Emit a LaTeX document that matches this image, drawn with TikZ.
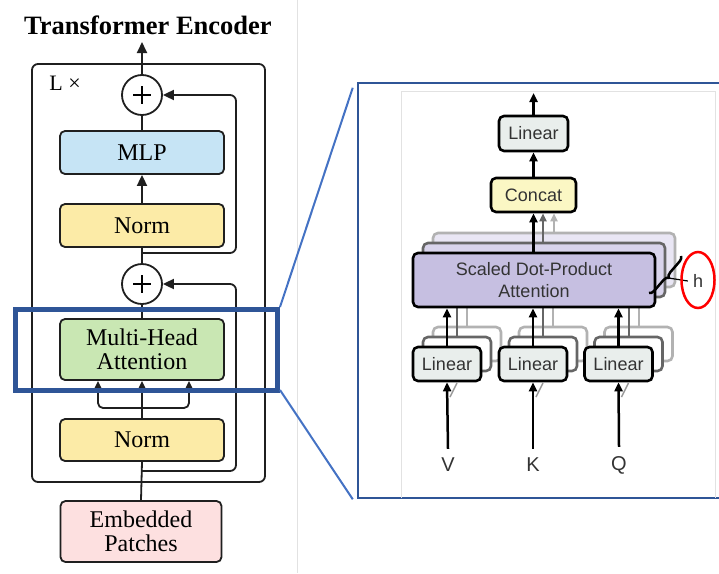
\documentclass[tikz,border=0pt]{standalone}
\usepackage{fontspec}
\setmainfont{Liberation Serif}
\newfontfamily\hv{Liberation Sans}
\usetikzlibrary{arrows.meta,decorations.pathreplacing,calc,shapes.geometric}

\definecolor{mlpblue}{HTML}{C6E4F5}
\definecolor{normyellow}{HTML}{FCEBA7}
\definecolor{mhagreen}{HTML}{C9E7B3}
\definecolor{embpink}{HTML}{FDE0E0}
\definecolor{linfill}{HTML}{E9EEEC}
\definecolor{concatfill}{HTML}{FBF7C4}
\definecolor{sdpafill}{HTML}{C6BFE1}
\definecolor{sdpafillb}{HTML}{D9D4EC}
\definecolor{sdpafillc}{HTML}{E9E6F4}
\definecolor{hlblue}{HTML}{2F5597}
\definecolor{linkblue}{HTML}{4472C4}
\definecolor{txtgray}{HTML}{333333}
\definecolor{divgray}{HTML}{E2E2E2}

\begin{document}
\begin{tikzpicture}[x=1pt,y=-1pt,
  every node/.style={inner sep=0pt},
  lline/.style={line width=1.8pt, draw=black!88},
  larr/.style={lline, -{Triangle[length=11pt,width=10pt]}},
  lbox/.style={draw=black!88, line width=1.8pt, rounded corners=5pt,
    minimum width=164pt, align=center, font=\fontsize{24}{24.5}\selectfont},
  plusnode/.style={circle, draw=black!88, line width=1.8pt, minimum size=40pt, fill=white},
  rline/.style={line width=2.5pt, draw=black},
  rarr/.style={rline, -{Triangle[length=9pt,width=8pt]}},
  rbox/.style={draw=black, line width=2.6pt, rounded corners=5pt, align=center,
    text=txtgray, font=\hv\fontsize{18}{22}\selectfont},
  rboxb/.style={rbox, draw=black!60},
  rboxc/.style={rbox, draw=black!30},
  rlabel/.style={text=txtgray, font=\hv\fontsize{20}{22}\selectfont},
]
\useasboundingbox (0,0) rectangle (719,573);
\fill[white] (0,0) rectangle (719,573);

% divider between the two panels
\draw[divgray, line width=1pt] (297,0) -- (297,573);

% ---------------- Transformer encoder ----------------
\node[font=\bfseries\fontsize{26.5}{27}\selectfont] (title) at (148,25) {Transformer Encoder};
\node[draw=black!88, line width=1.8pt, rounded corners=6pt,
      minimum width=233pt, minimum height=418pt] (enc) at (148.5,273) {};
\node[font=\fontsize{22}{24}\selectfont] (lx) at (65,83) {L ×};

\node[lbox, fill=mlpblue, minimum height=43pt] (mlp) at (142,152.5) {MLP};
\node[lbox, fill=normyellow, minimum height=43pt] (norma) at (142,225.5) {Norm};
\node[lbox, fill=mhagreen, minimum height=61pt] (mha) at (142,349.5) {Multi-Head\\Attention};
\node[lbox, fill=normyellow, minimum height=42pt] (normb) at (142,440) {Norm};
\node[lbox, fill=embpink, minimum width=161pt, minimum height=61pt] (emb) at (141,531.5) {Embedded\\Patches};

\node[plusnode] (plustop) at (142,95) {};
\node[plusnode] (plusmid) at (142,284) {};
\foreach \p in {plustop,plusmid}{
  \draw[line width=1.8pt] ($(\p.center)+(-9,0)$) -- ($(\p.center)+(9,0)$);
  \draw[line width=1.8pt] ($(\p.center)+(0,-9)$) -- ($(\p.center)+(0,9)$);
}

\coordinate (out) at (142,42);
\coordinate (ja) at (142,253);
\coordinate (jb) at (142,471);
\coordinate (jc) at (142,408);

\draw[larr] (plustop.north) -- (out);
\draw[lline] (mlp.north) -- (plustop.south);
\draw[larr] (norma.north) -- (mlp.south);
\draw[lline] (plusmid.north) -- (norma.south);
\draw[larr, rounded corners=6pt] (ja) -- (236,253) -- (236,95) -- (plustop.east);
\draw[lline] (mha.north) -- (plusmid.south);
\draw[larr, rounded corners=6pt] (jb) -- (236,471) -- (236,284) -- (plusmid.east);
\draw[lline] (emb.north) -- (normb.south);
\draw[larr] (normb.north) -- (mha.south);
\draw[larr, rounded corners=5pt] (jc) -- (98,408) -- (mha.south -| 98,0);
\draw[larr, rounded corners=5pt] (jc) -- (189,408) -- (mha.south -| 189,0);

% highlighted block
\node[draw=hlblue, line width=5pt, minimum width=262pt, minimum height=81pt] (hl) at (146.5,350) {};

% ---------------- Multi-head attention detail ----------------
\node[draw=hlblue, line width=2.5pt, minimum width=367pt, minimum height=415pt] (zoomframe) at (541.5,290.5) {};
\draw[divgray, line width=1pt] (401,498) -- (401,91) -- (715,91) -- (715,498);

\draw[linkblue, line width=2pt] (hl.north east) -- ([xshift=-4pt,yshift=-6pt]zoomframe.north west);
\draw[linkblue, line width=2pt] ([yshift=3pt]hl.south east) -- ([xshift=-4pt]zoomframe.south west);

% stacked heads, back to front
\node[rboxc, fill=sdpafillc, minimum width=242pt, minimum height=54pt] (sdpac) at (554,260) {};
\node[rboxb, fill=sdpafillb, minimum width=242pt, minimum height=54pt] (sdpab) at (544,270) {};

\foreach \n/\x in {v/447,k/533,q/618.5}{
  \node[rboxc, fill=white, minimum width=68pt, minimum height=34pt] (l\n c) at (\x+20,344) {};
  \draw[black!30, line width=2pt] (l\n c.north) -- (\x+20,297);
  \node[rboxb, fill=white, minimum width=68pt, minimum height=34pt] (l\n b) at (\x+10,354) {};
  \draw[black!60, line width=2pt] (l\n b.north) -- (\x+10,307);
  \draw[black!40, line width=1.5pt] (\x+3,397) -- (\x+10,383);
}

\node[rbox, fill=sdpafill, minimum width=242pt, minimum height=54pt] (sdpa) at (534,280) {Scaled Dot-Product\\Attention};

\node[rbox, fill=linfill, minimum width=68pt, minimum height=34pt] (lv) at (447,364) {Linear};
\node[rbox, fill=linfill, minimum width=68pt, minimum height=34pt] (lk) at (533,364) {Linear};
\node[rbox, fill=linfill, minimum width=68pt, minimum height=34pt] (lq) at (618.5,364) {Linear};

\node[rbox, fill=concatfill, minimum width=85pt, minimum height=34pt] (concat) at (533.5,195) {Concat};
\node[rbox, fill=linfill, minimum width=69pt, minimum height=35pt] (lout) at (533.5,133.5) {Linear};

\node[rlabel] (vin) at (448,465) {V};
\node[rlabel] (kin) at (533,465) {K};
\node[rlabel] (qin) at (619,465) {Q};

\foreach \a/\b in {vin/lv,kin/lk,qin/lq}{
  \draw[rarr] ([yshift=9pt]\a.north) -- (\b.south);
  \draw[rarr] (\b.north) -- (\b.north |- sdpa.south);
}

\draw[black!30, line width=1.8pt, -{Triangle[length=8pt,width=7pt]}] (sdpac.north -| 554,0) -- (concat.south -| 554,0);
\draw[black!60, line width=1.8pt, -{Triangle[length=8pt,width=7pt]}] (sdpab.north -| 543,0) -- (concat.south -| 543,0);
\draw[rarr] (sdpa.north -| concat.south) -- (concat.south);
\draw[rarr] (concat.north) -- (lout.south);
\coordinate (rout) at (533.5,93);
\draw[rarr] (lout.north) -- (rout);

% number of heads
\draw[line width=2.5pt, decorate, decoration={brace, amplitude=5pt}] (681,256) -- (649,293);
\node[rlabel, font=\hv\fontsize{18}{20}\selectfont] (hlab) at (698,281) {h};
\draw[line width=1.2pt] (668.5,278) -- ([xshift=-5pt]hlab.west);
\node[draw=red, line width=2.5pt, ellipse, minimum width=33pt, minimum height=56pt] (hring) at (698,280) {};

\end{tikzpicture}
\end{document}
